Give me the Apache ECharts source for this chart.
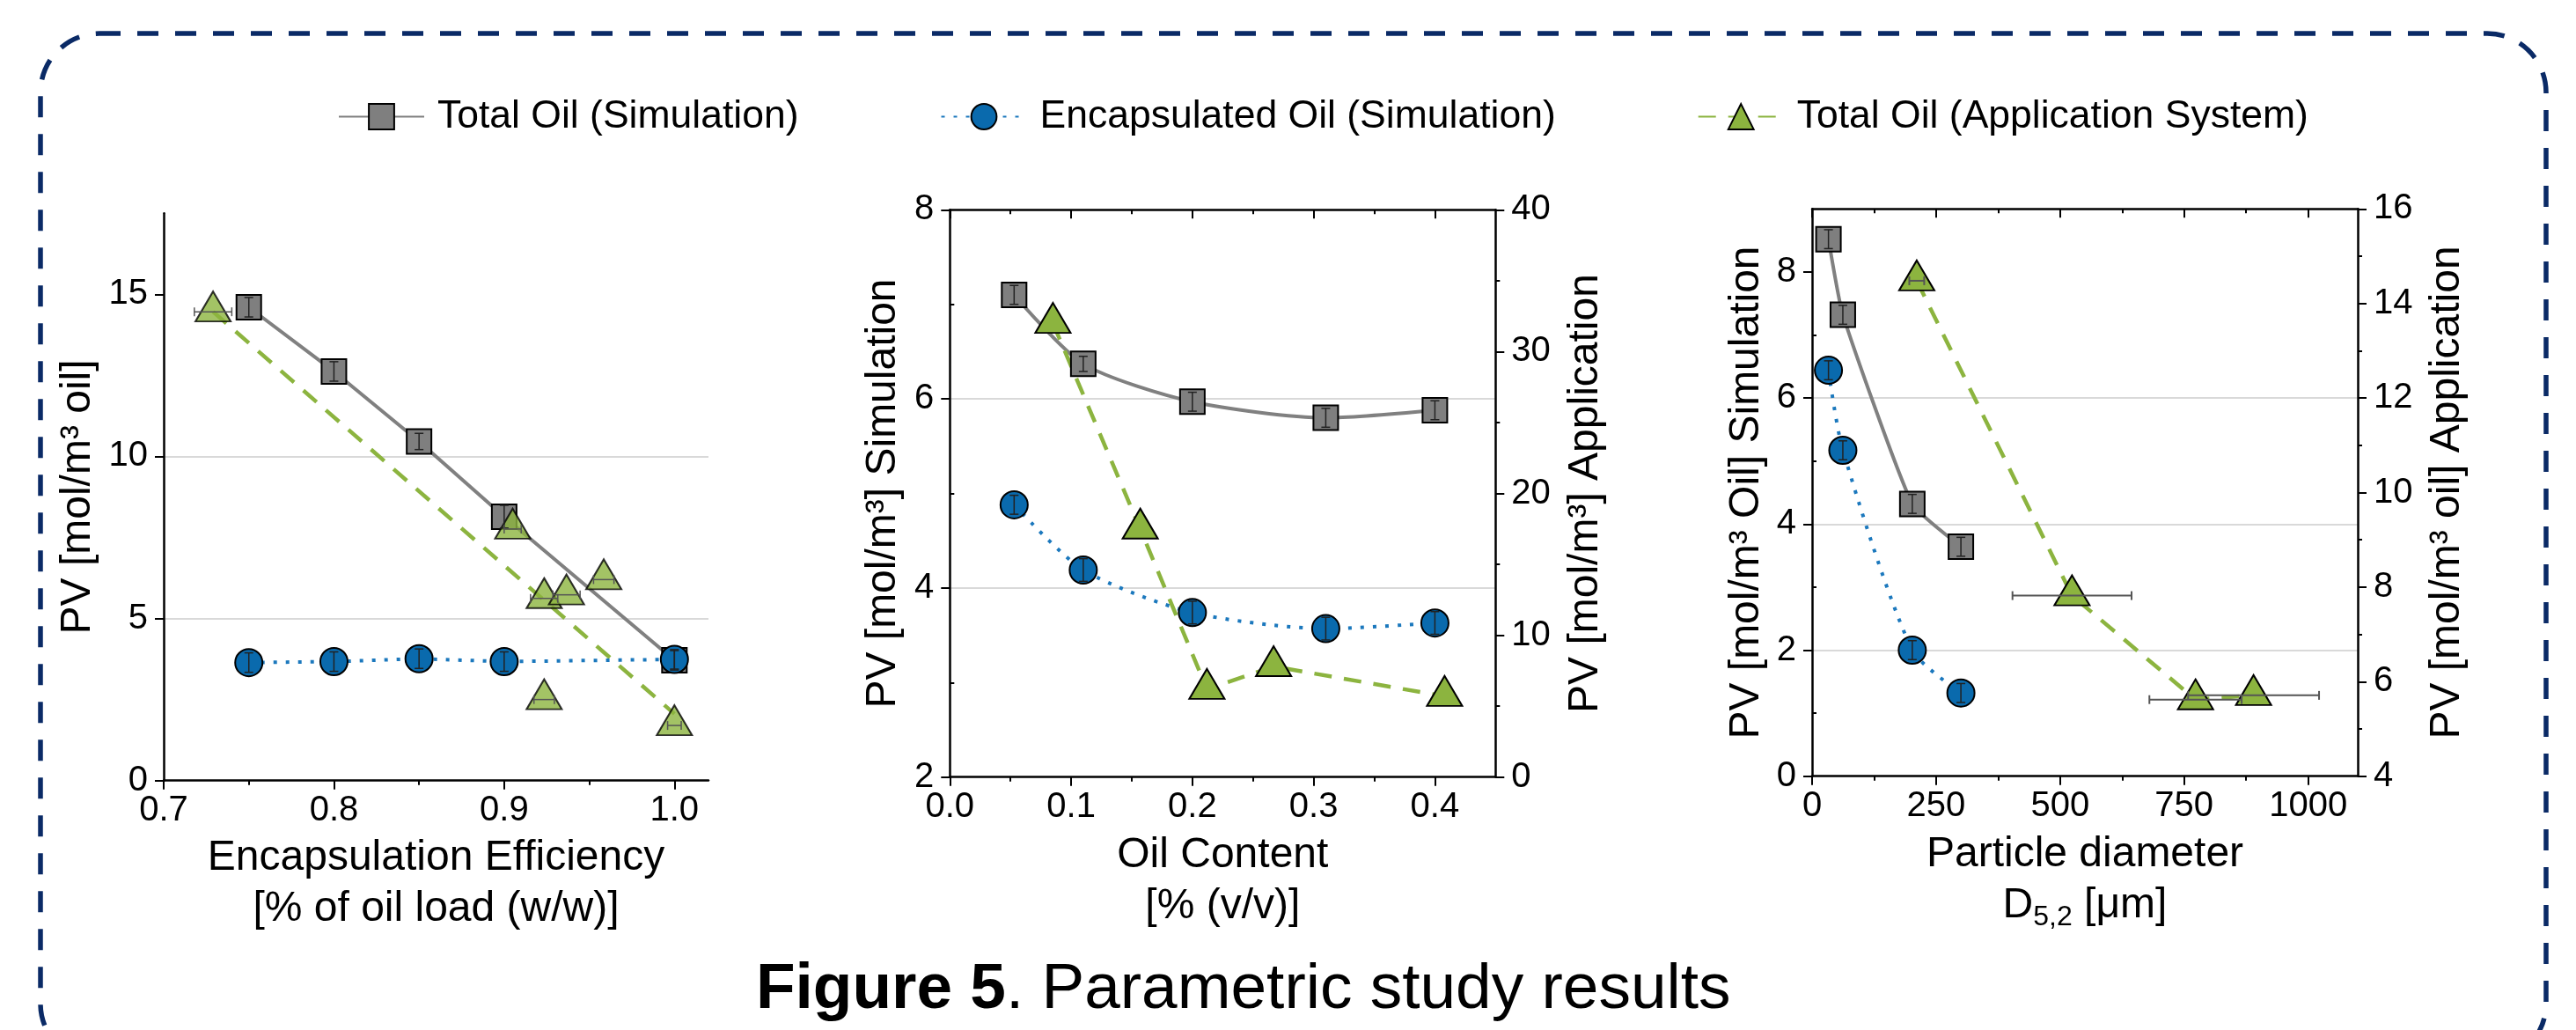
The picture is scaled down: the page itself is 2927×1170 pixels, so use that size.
<!DOCTYPE html>
<html>
<head>
<meta charset="utf-8">
<script src="https://cdn.jsdelivr.net/npm/echarts@6/dist/echarts.min.js"></script>
<style>
html,body{margin:0;padding:0;background:#fff;}
#chart{width:2927px;height:1170px;}
</style>
</head>
<body>
<div id="chart"></div>
<script>
// ================= DATA =================
const legendNames = ['Total Oil (Simulation)', 'Encapsulated Oil (Simulation)', 'Total Oil (Application System)'];

// Panel 1 : Encapsulation efficiency
const p1X          = [0.75, 0.80, 0.85, 0.90, 1.00];
const p1TotalSim   = [14.60, 12.62, 10.46, 8.14, 3.71];
const p1TotalErr   = [0.30, 0.30, 0.25, 0.35, 0.30];
const p1EncSim     = [3.64, 3.67, 3.76, 3.67, 3.74];
const p1EncErr     = [0.30, 0.30, 0.30, 0.30, 0.30];
const p1AppX       = [0.729, 0.905, 0.9235, 0.9366, 0.9585, 0.9235, 1.000];
const p1App        = [14.46, 7.76, 5.62, 5.73, 6.20, 2.50, 1.70];
const p1AppXErr    = [0.011, 0.005, 0.008, 0.008, 0.006, 0.006, 0.004];
const p1FitX       = [0.729, 1.000];
const p1Fit        = [14.46, 2.06];
const p1XTicks     = [0.7, 0.8, 0.9, 1.0];
const p1XMinor     = [0.75, 0.85, 0.95];
const p1YTicks     = [0, 5, 10, 15];

// Panel 2 : Oil content
const p2X          = [0.053, 0.110, 0.200, 0.310, 0.400];
const p2TotalSim   = [7.10, 6.37, 5.97, 5.80, 5.88];
const p2TotalErr   = [0.10, 0.08, 0.10, 0.10, 0.10];
const p2EncSim     = [4.88, 4.19, 3.74, 3.57, 3.63];
const p2EncErr     = [0.10, 0.12, 0.12, 0.12, 0.12];
const p2AppX       = [0.085, 0.157, 0.212, 0.267, 0.408];
const p2App        = [32.0, 17.5, 6.2, 7.8, 5.7];
const p2XTicks     = [0, 0.1, 0.2, 0.3, 0.4];
const p2XMinor     = [0.05, 0.15, 0.25, 0.35];
const p2YTicks     = [2, 4, 6, 8];
const p2YMinor     = [3, 5, 7];
const p2Y2Ticks    = [0, 10, 20, 30, 40];
const p2Y2Minor    = [5, 15, 25, 35];

// Panel 3 : Particle diameter
const p3X          = [33, 62, 202, 300];
const p3TotalSim   = [8.52, 7.32, 4.32, 3.64];
const p3TotalErr   = [0.15, 0.15, 0.15, 0.15];
const p3EncSim     = [6.44, 5.17, 2.00, 1.32];
const p3EncErr     = [0.15, 0.15, 0.15, 0.15];
const p3AppX       = [211, 524, 773, 890];
const p3App        = [14.48, 7.82, 5.62, 5.71];
const p3AppXErr    = [15, 120, 93, 132];
const p3XTicks     = [0, 250, 500, 750, 1000];
const p3XMinor     = [125, 375, 625, 875];
const p3YTicks     = [0, 2, 4, 6, 8];
const p3YMinor     = [1, 3, 5, 7];
const p3Y2Ticks    = [4, 6, 8, 10, 12, 14, 16];
const p3Y2Minor    = [5, 7, 9, 11, 13, 15];

// ================= HELPERS =================
const FONT = "'Liberation Sans', Arial, Helvetica, sans-serif";
function pairs(xs, ys) { return xs.map((x, i) => [x, ys[i]]); }
function deepMerge(a, b) {
  for (const k in b) {
    if (b[k] && typeof b[k] === 'object' && !Array.isArray(b[k]) && a[k] && typeof a[k] === 'object' && !Array.isArray(a[k])) deepMerge(a[k], b[k]);
    else a[k] = b[k];
  }
  return a;
}
function baseAxis(extra) {
  const a = {
    type: 'value',
    silent: true,
    axisLine: { show: true, onZero: false, lineStyle: { color: '#000', width: 2.5 } },
    axisTick: { show: true, inside: false, length: 10, lineStyle: { color: '#000', width: 2 } },
    axisLabel: { show: true, color: '#000', fontSize: 40, fontFamily: FONT, margin: 16 },
    splitLine: { show: false },
    nameLocation: 'middle',
    nameTextStyle: { color: '#000', fontSize: 48, fontFamily: FONT }
  };
  return deepMerge(a, extra);
}
function minorAxis(extra) {
  return baseAxis(deepMerge({ axisLine: { show: false }, axisLabel: { show: false }, axisTick: { length: 5 } }, extra));
}
const GRID_LINE = { show: true, showMinLine: false, showMaxLine: false, lineStyle: { color: '#d9d9d9', width: 2 } };

const STY = {
  total: { symbol: 'rect', symbolSize: 28,
           itemStyle: { color: '#7f7f7f', borderColor: '#000', borderWidth: 2 },
           lineStyle: { color: '#808080', width: 4, type: 'solid' } },
  enc:   { symbol: 'circle', symbolSize: 31,
           itemStyle: { color: '#0a6aad', borderColor: '#000', borderWidth: 2 },
           lineStyle: { color: '#1b78bd', width: 4, type: [4, 10] } },
  app:   { symbol: 'triangle', symbolSize: [40, 34], symbolOffset: [0, -6],
           itemStyle: { color: '#8cb43f', borderColor: '#000', borderWidth: 2 },
           lineStyle: { color: '#8cb43f', width: 4.5, type: [20, 14] } }
};
function lineS(kind, name, data, xi, yi, extra) {
  return Object.assign({ type: 'line', name, data, xAxisIndex: xi, yAxisIndex: yi,
    showSymbol: true, animation: false, emphasis: { disabled: true }, z: 3 },
    JSON.parse(JSON.stringify(STY[kind])), extra || {});
}
function errS(xs, ys, xerr, yerr, xi, yi, color, w) {
  const data = xs.map((x, i) => [x, ys[i], xerr ? xerr[i] : 0, yerr ? yerr[i] : 0]);
  return {
    type: 'custom', name: 'errorbars', xAxisIndex: xi, yAxisIndex: yi, z: 10, silent: true, animation: false,
    data, encode: { x: 0, y: 1 },
    renderItem: function (params, api) {
      const x = api.value(0), y = api.value(1), xe = api.value(2), ye = api.value(3);
      const style = { stroke: color, lineWidth: w };
      const ch = [];
      const cap = 5;
      if (ye > 0) {
        const a = api.coord([x, y - ye]), b = api.coord([x, y + ye]);
        ch.push({ type: 'line', shape: { x1: a[0], y1: a[1], x2: b[0], y2: b[1] }, style });
        ch.push({ type: 'line', shape: { x1: a[0] - cap, y1: a[1], x2: a[0] + cap, y2: a[1] }, style });
        ch.push({ type: 'line', shape: { x1: b[0] - cap, y1: b[1], x2: b[0] + cap, y2: b[1] }, style });
      }
      if (xe > 0) {
        const a = api.coord([x - xe, y]), b = api.coord([x + xe, y]);
        ch.push({ type: 'line', shape: { x1: a[0], y1: a[1], x2: b[0], y2: b[1] }, style });
        ch.push({ type: 'line', shape: { x1: a[0], y1: a[1] - cap, x2: a[0], y2: a[1] + cap }, style });
        ch.push({ type: 'line', shape: { x1: b[0], y1: b[1] - cap, x2: b[0], y2: b[1] + cap }, style });
      }
      return { type: 'group', children: ch };
    }
  };
}

// ================= CHART =================
const chart = echarts.init(document.getElementById('chart'), null, { renderer: 'canvas', width: 2927, height: 1170 });

const option = {
  backgroundColor: '#ffffff',
  animation: false,
  title: {
    text: '{b|Figure 5}. Parametric study results',
    left: 854, top: 1083,
    textStyle: { fontSize: 73, fontWeight: 'normal', color: '#000', fontFamily: FONT,
      rich: { b: { fontSize: 73, fontWeight: 'bold', color: '#000', fontFamily: FONT } } }
  },
  legend: {
    data: legendNames,
    left: 384, top: 110, padding: 0,
    itemWidth: 97, itemHeight: 36, itemGap: 161,
    textStyle: { fontSize: 44.5, color: '#000', fontFamily: FONT, padding: [0, 0, 0, 10] },
    selectedMode: false
  },
  graphic: [{
    type: 'rect', silent: true, z: -1,
    shape: { x: 46, y: 38, width: 2847, height: 1169, r: 67 },
    style: { fill: 'transparent', stroke: '#0a2a66', lineWidth: 5.5, lineDash: [24, 19] }
  }],
  grid: [
    { left: 186, top: 242.2, width: 619, height: 644.5 },
    { left: 1079.3, top: 238.3, width: 620, height: 644.4 },
    { left: 2059, top: 237.3, width: 620, height: 644.4 }
  ],
  xAxis: [
    // 0 panel1 bottom
    baseAxis({ gridIndex: 0, position: 'bottom', min: 0.7, max: 1.02,
      axisTick: { customValues: p1XTicks }, axisLabel: { customValues: p1XTicks, margin: 14, formatter: v => v.toFixed(1) },
      name: 'Encapsulation Efficiency\n[% of oil load (w/w)]', nameGap: 56, nameTextStyle: { lineHeight: 58 } }),
    // 1 panel1 bottom minor
    minorAxis({ gridIndex: 0, position: 'bottom', min: 0.7, max: 1.02, axisTick: { customValues: p1XMinor } }),
    // 2 panel2 bottom
    baseAxis({ gridIndex: 1, position: 'bottom', min: 0, max: 0.45,
      axisTick: { customValues: p2XTicks }, axisLabel: { customValues: p2XTicks, margin: 14, formatter: v => v.toFixed(1) },
      name: 'Oil Content\n[% (v/v)]', nameGap: 60, nameTextStyle: { lineHeight: 58 } }),
    // 3 panel2 bottom minor
    minorAxis({ gridIndex: 1, position: 'bottom', min: 0, max: 0.45, axisTick: { customValues: p2XMinor } }),
    // 4 panel2 top
    baseAxis({ gridIndex: 1, position: 'top', min: 0, max: 0.45,
      axisTick: { inside: true, customValues: p2XTicks }, axisLabel: { show: false } }),
    // 5 panel2 top minor
    minorAxis({ gridIndex: 1, position: 'top', min: 0, max: 0.45, axisTick: { inside: true, customValues: p2XMinor } }),
    // 6 panel3 bottom
    baseAxis({ gridIndex: 2, position: 'bottom', min: 0, max: 1100,
      axisTick: { customValues: p3XTicks }, axisLabel: { customValues: p3XTicks, margin: 14, formatter: v => String(Math.round(v)) },
      name: 'Particle diameter\n{n|D}{s|5,2}{n| [μm]}', nameGap: 60,
      nameTextStyle: { lineHeight: 58, rich: {
        n: { fontSize: 48, fontFamily: FONT, color: '#000', lineHeight: 58 },
        s: { fontSize: 32, fontFamily: FONT, color: '#000', verticalAlign: 'bottom' } } } }),
    // 7 panel3 bottom minor
    minorAxis({ gridIndex: 2, position: 'bottom', min: 0, max: 1100, axisTick: { customValues: p3XMinor } }),
    // 8 panel3 top
    baseAxis({ gridIndex: 2, position: 'top', min: 0, max: 1100,
      axisTick: { inside: true, customValues: p3XTicks }, axisLabel: { show: false } }),
    // 9 panel3 top minor
    minorAxis({ gridIndex: 2, position: 'top', min: 0, max: 1100, axisTick: { inside: true, customValues: p3XMinor } })
  ],
  yAxis: [
    // 0 panel1 left
    baseAxis({ gridIndex: 0, position: 'left', min: 0, max: 17.5, interval: 2.5,
      axisTick: { customValues: p1YTicks }, axisLabel: { customValues: p1YTicks, margin: 18 },
      splitLine: GRID_LINE, name: 'PV [mol/m³ oil]', nameGap: 73 }),
    // 1 panel2 left
    baseAxis({ gridIndex: 1, position: 'left', min: 2, max: 8, interval: 1,
      axisTick: { customValues: p2YTicks }, axisLabel: { customValues: p2YTicks, margin: 18 },
      splitLine: GRID_LINE, name: 'PV [mol/m³] Simulation', nameGap: 52 }),
    // 2 panel2 left minor
    minorAxis({ gridIndex: 1, position: 'left', min: 2, max: 8, axisTick: { inside: true, customValues: p2YMinor } }),
    // 3 panel2 right
    baseAxis({ gridIndex: 1, position: 'right', min: 0, max: 40, interval: 10,
      axisTick: { customValues: p2Y2Ticks }, axisLabel: { customValues: p2Y2Ticks, margin: 18 },
      name: 'PV [mol/m³] Application', nameGap: 78 }),
    // 4 panel2 right minor
    minorAxis({ gridIndex: 1, position: 'right', min: 0, max: 40, axisTick: { customValues: p2Y2Minor } }),
    // 5 panel3 left
    baseAxis({ gridIndex: 2, position: 'left', min: 0, max: 9, interval: 2,
      axisTick: { customValues: p3YTicks }, axisLabel: { customValues: p3YTicks, margin: 18 },
      splitLine: GRID_LINE, name: 'PV [mol/m³ Oil] Simulation', nameGap: 50 }),
    // 6 panel3 left minor
    minorAxis({ gridIndex: 2, position: 'left', min: 0, max: 9, axisTick: { inside: true, customValues: p3YMinor } }),
    // 7 panel3 right
    baseAxis({ gridIndex: 2, position: 'right', min: 4, max: 16, interval: 2,
      axisTick: { customValues: p3Y2Ticks }, axisLabel: { customValues: p3Y2Ticks, margin: 18 },
      name: 'PV [mol/m³ oil] Application', nameGap: 78 }),
    // 8 panel3 right minor
    minorAxis({ gridIndex: 2, position: 'right', min: 4, max: 16, axisTick: { customValues: p3Y2Minor } })
  ],
  series: [
    // ---- Panel 2 (first so legend icons come from connected series)
    lineS('total', legendNames[0], pairs(p2X, p2TotalSim), 2, 1, { smooth: 0.25 }),
    lineS('enc',   legendNames[1], pairs(p2X, p2EncSim),   2, 1, { smooth: 0.25 }),
    lineS('app',   legendNames[2], pairs(p2AppX, p2App),   2, 3),
    errS(p2X, p2TotalSim, null, p2TotalErr, 2, 1, '#222', 1.5),
    errS(p2X, p2EncSim,   null, p2EncErr,   2, 1, '#222', 1.5),
    // ---- Panel 1
    lineS('app', 'Linear fit (Application System)', pairs(p1FitX, p1Fit), 0, 0, { showSymbol: false, symbol: 'none', z: 2 }),
    lineS('total', legendNames[0], pairs(p1X, p1TotalSim), 0, 0),
    lineS('enc',   legendNames[1], pairs(p1X, p1EncSim),   0, 0),
    Object.assign({ type: 'scatter', name: legendNames[2], data: pairs(p1AppX, p1App), xAxisIndex: 0, yAxisIndex: 0,
      animation: false, emphasis: { disabled: true }, z: 4 },
      { symbol: STY.app.symbol, symbolSize: STY.app.symbolSize, symbolOffset: STY.app.symbolOffset,
        itemStyle: JSON.parse(JSON.stringify(STY.app.itemStyle)) }),
    errS(p1X, p1TotalSim, null, p1TotalErr, 0, 0, '#222', 1.5),
    errS(p1X, p1EncSim,   null, p1EncErr,   0, 0, '#222', 1.5),
    errS(p1AppX, p1App, p1AppXErr, null, 0, 0, '#555', 1.5),
    // ---- Panel 3
    lineS('total', legendNames[0], pairs(p3X, p3TotalSim), 6, 5, { smooth: 0.15 }),
    lineS('enc',   legendNames[1], pairs(p3X, p3EncSim),   6, 5, { smooth: 0.25 }),
    lineS('app',   legendNames[2], pairs(p3AppX, p3App),   6, 7),
    errS(p3X, p3TotalSim, null, p3TotalErr, 6, 5, '#222', 1.5),
    errS(p3X, p3EncSim,   null, p3EncErr,   6, 5, '#222', 1.5),
    errS(p3AppX, p3App, p3AppXErr, null, 6, 7, '#555', 2)
  ]
};
chart.setOption(option);
</script>
</body>
</html>
